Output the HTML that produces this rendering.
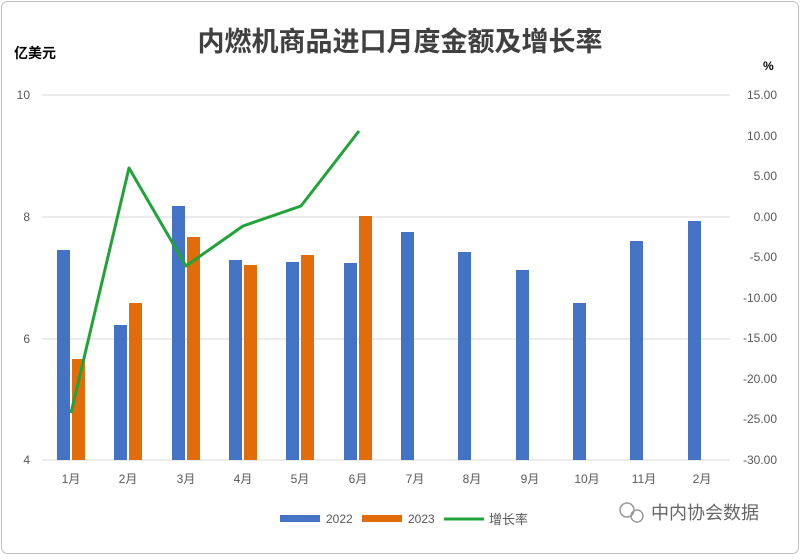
<!DOCTYPE html>
<html><head><meta charset="utf-8"><style>
body{margin:0;background:#fff;}
svg text{font-family:"Liberation Sans","Noto Sans CJK SC",sans-serif;}
</style></head><body>
<svg width="800" height="555" viewBox="0 0 800 555" xmlns="http://www.w3.org/2000/svg">
<rect x="1.5" y="1.5" width="797" height="552" rx="6" fill="#fff" stroke="#bfbfbf"/>
<text x="400" y="51" font-size="27" font-weight="bold" fill="#404040" text-anchor="middle">内燃机商品进口月度金额及增长率</text>
<text x="14" y="58" font-size="14" font-weight="bold" fill="#000">亿美元</text>
<text x="763" y="70" font-size="12" font-weight="bold" fill="#000">%</text>
<g stroke="#d9d9d9" stroke-width="1">
<line x1="42" y1="95" x2="730" y2="95"/><line x1="42" y1="217" x2="730" y2="217"/>
<line x1="42" y1="339" x2="730" y2="339"/><line x1="42" y1="460" x2="730" y2="460"/>
</g>
<g font-size="12" fill="#595959" text-anchor="end">
<text x="30" y="99">10</text><text x="30" y="221">8</text><text x="30" y="343">6</text><text x="30" y="464">4</text>
</g>
<g font-size="12" fill="#595959" text-anchor="end">
<text x="777" y="99">15.00</text><text x="777" y="140">10.00</text><text x="777" y="180">5.00</text><text x="777" y="221">0.00</text>
<text x="777" y="261">-5.00</text><text x="777" y="302">-10.00</text><text x="777" y="342">-15.00</text><text x="777" y="383">-20.00</text>
<text x="777" y="423">-25.00</text><text x="777" y="464">-30.00</text>
</g>
<g fill="#4472c4">
<rect x="57" y="250" width="13" height="210"/>
<rect x="114" y="325" width="13" height="135"/>
<rect x="172" y="206" width="13" height="254"/>
<rect x="229" y="260" width="13" height="200"/>
<rect x="286" y="262" width="13" height="198"/>
<rect x="344" y="263" width="13" height="197"/>
<rect x="401" y="232" width="13" height="228"/>
<rect x="458" y="252" width="13" height="208"/>
<rect x="516" y="270" width="13" height="190"/>
<rect x="573" y="303" width="13" height="157"/>
<rect x="630" y="241" width="13" height="219"/>
<rect x="688" y="221" width="13" height="239"/>
</g>
<g fill="#e36c0a">
<rect x="72" y="359" width="13" height="101"/>
<rect x="129" y="303" width="13" height="157"/>
<rect x="187" y="237" width="13" height="223"/>
<rect x="244" y="265" width="13" height="195"/>
<rect x="301" y="255" width="13" height="205"/>
<rect x="359" y="216" width="13" height="244"/>
</g>
<polyline points="71,413 129,168 186,266 243,226 301,206 359,131" fill="none" stroke="#22a33a" stroke-width="3" stroke-linejoin="round"/>
<g font-size="12" fill="#595959" text-anchor="middle">
<text x="71" y="483">1月</text><text x="128" y="483">2月</text><text x="186" y="483">3月</text><text x="243" y="483">4月</text>
<text x="300" y="483">5月</text><text x="358" y="483">6月</text><text x="415" y="483">7月</text><text x="472" y="483">8月</text>
<text x="530" y="483">9月</text><text x="587" y="483">10月</text><text x="644" y="483">11月</text><text x="702" y="483">2月</text>
</g>
<rect x="280" y="515" width="40" height="7" fill="#4472c4"/>
<text x="326" y="523" font-size="12" fill="#595959">2022</text>
<rect x="362" y="515" width="40" height="7" fill="#e36c0a"/>
<text x="408" y="523" font-size="12" fill="#595959">2023</text>
<line x1="444" y1="519" x2="484" y2="519" stroke="#22a33a" stroke-width="3"/>
<text x="489" y="524" font-size="13" fill="#595959">增长率</text>
<circle cx="627" cy="510" r="7" fill="none" stroke="#999" stroke-width="1.5"/>
<circle cx="637" cy="516" r="6" fill="none" stroke="#999" stroke-width="1.5"/>
<text x="651" y="519" font-size="18" fill="#666">中内协会数据</text>
</svg>
</body></html>
